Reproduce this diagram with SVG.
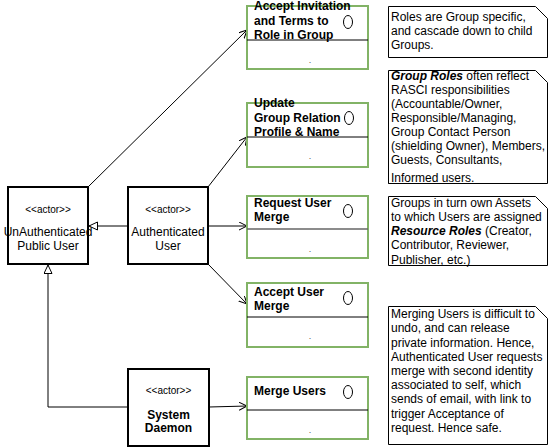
<svg xmlns="http://www.w3.org/2000/svg" width="549" height="448" viewBox="0 0 549 448">
<defs>
<style>
text{font-family:"Liberation Sans",Arial,sans-serif;font-size:12px;fill:#000}
.st{font-size:10px}
.b{font-weight:bold}
.actor{fill:#fff;stroke:#000;stroke-width:2}
.uc{fill:#fff;stroke:#82b366;stroke-width:2}
.sep{stroke:#000;stroke-width:1}
.ov{fill:#fff;stroke:#000;stroke-width:1}
.note{fill:#fff;stroke:#000;stroke-width:1}
.conn{fill:none;stroke:#000;stroke-width:1}
.dot{font-size:9px;fill:#555}
</style>
<marker id="open" markerWidth="10" markerHeight="10" refX="8" refY="4" orient="auto" markerUnits="userSpaceOnUse">
<path d="M0,0 L8,4 L0,8" fill="none" stroke="#000" stroke-width="1"/>
</marker>
<marker id="tri" markerWidth="12" markerHeight="12" refX="9" refY="4.5" orient="auto" markerUnits="userSpaceOnUse">
<path d="M0.5,0.5 L9,4.5 L0.5,8.5 Z" fill="#fff" stroke="#000" stroke-width="1"/>
</marker>
</defs>

<g id="connectors">
<line class="conn" x1="88" y1="187" x2="247" y2="30" marker-end="url(#open)"/>
<line class="conn" x1="208" y1="187" x2="247" y2="137" marker-end="url(#open)"/>
<line class="conn" x1="208" y1="226" x2="247" y2="226" marker-end="url(#open)"/>
<line class="conn" x1="208" y1="264" x2="247" y2="304" marker-end="url(#open)"/>
<line class="conn" x1="209" y1="407" x2="247" y2="406" marker-end="url(#open)"/>
<line class="conn" x1="128" y1="226" x2="89" y2="226" marker-end="url(#tri)"/>
<polyline class="conn" points="128,407 48,407 48,265" marker-end="url(#tri)"/>
</g>

<g id="actor-unauth">
<rect class="actor" x="8" y="187" width="80" height="77"/>
<text class="st" x="48" y="213" text-anchor="middle">&lt;&lt;actor&gt;&gt;</text>
<text x="48" y="236" text-anchor="middle">UnAuthenticated</text>
<text x="48" y="249.5" text-anchor="middle">Public User</text>
</g>

<g id="actor-auth">
<rect class="actor" x="128" y="187" width="80" height="77"/>
<text class="st" x="168" y="213" text-anchor="middle">&lt;&lt;actor&gt;&gt;</text>
<text x="168" y="236" text-anchor="middle">Authenticated</text>
<text x="168" y="249.5" text-anchor="middle">User</text>
</g>

<g id="actor-daemon">
<rect class="actor" x="128" y="369" width="81" height="77" stroke="#333"/>
<text class="st" x="168.5" y="394" text-anchor="middle">&lt;&lt;actor&gt;&gt;</text>
<text class="b" x="168.5" y="418.5" text-anchor="middle">System</text>
<text class="b" x="168.5" y="432" text-anchor="middle">Daemon</text>
</g>

<g id="uc-accept-invitation">
<rect class="uc" x="247" y="6" width="121" height="63"/>
<line class="sep" x1="247" y1="40" x2="368" y2="40"/>
<ellipse class="ov" cx="348" cy="22" rx="4.5" ry="6.5"/>
<text class="b" x="254" y="10">Accept Invitation</text>
<text class="b" x="254" y="24.5">and Terms to</text>
<text class="b" x="254" y="39">Role in Group</text>
<text class="dot" x="310" y="63" text-anchor="middle">.</text>
</g>

<g id="uc-update-group">
<rect class="uc" x="247" y="103" width="121" height="64"/>
<line class="sep" x1="247" y1="137" x2="368" y2="137"/>
<ellipse class="ov" cx="349" cy="118" rx="4.5" ry="6.5"/>
<text class="b" x="254" y="107">Update</text>
<text class="b" x="254" y="121.5">Group Relation</text>
<text class="b" x="254" y="136">Profile &amp; Name</text>
<text class="dot" x="310" y="159" text-anchor="middle">.</text>
</g>

<g id="uc-request-merge">
<rect class="uc" x="247" y="196" width="121" height="62"/>
<line x1="247" y1="229" x2="368" y2="229" stroke="#666" stroke-width="1.5"/>
<ellipse class="ov" cx="348" cy="211" rx="4.5" ry="6.5"/>
<text class="b" x="254" y="207">Request User</text>
<text class="b" x="254" y="221">Merge</text>
<text class="dot" x="310" y="252" text-anchor="middle">.</text>
</g>

<g id="uc-accept-merge">
<rect class="uc" x="247" y="283" width="121" height="64"/>
<line class="sep" x1="247" y1="317" x2="368" y2="317"/>
<ellipse class="ov" cx="348" cy="298" rx="4.5" ry="6.5"/>
<text class="b" x="254" y="295.5">Accept User</text>
<text class="b" x="254" y="310">Merge</text>
<text class="dot" x="310" y="339" text-anchor="middle">.</text>
</g>

<g id="uc-merge-users">
<rect class="uc" x="247" y="377" width="121" height="62"/>
<line class="sep" x1="247" y1="410" x2="368" y2="410"/>
<ellipse class="ov" cx="348" cy="392" rx="4.5" ry="6.5"/>
<text class="b" x="254" y="395">Merge Users</text>
<text class="dot" x="310" y="433" text-anchor="middle">.</text>
</g>

<g id="note-roles">
<path class="note" d="M388.5,6.5 H535.5 L547.5,18.5 V57.5 H388.5 Z"/>
<text x="391" y="21">Roles are Group specific,</text>
<text x="391" y="35">and cascade down to child</text>
<text x="391" y="49">Groups.</text>
</g>

<g id="note-group-roles">
<path class="note" d="M388.5,70.5 H535.5 L547.5,82.5 V183.5 H388.5 Z"/>
<text x="391" y="80"><tspan font-style="italic" font-weight="bold">Group Roles</tspan> often reflect</text>
<text x="391" y="94">RASCI responsibilities</text>
<text x="391" y="108">(Accountable/Owner,</text>
<text x="391" y="122">Responsible/Managing,</text>
<text x="391" y="136">Group Contact Person</text>
<text x="391" y="150">(shielding Owner), Members,</text>
<text x="391" y="164">Guests, Consultants,</text>
<text x="391" y="182">Informed users.</text>
<line x1="388.5" y1="183.5" x2="498" y2="183.5" stroke="#000" stroke-width="1"/>
</g>

<g id="note-resources">
<path class="note" d="M388.5,196.5 H535.5 L547.5,208.5 V265.5 H388.5 Z" stroke="#333" stroke-width="1.5"/>
<text x="391" y="207">Groups in turn own Assets</text>
<text x="391" y="221">to which Users are assigned</text>
<text x="391" y="235"><tspan font-style="italic" font-weight="bold">Resource Roles</tspan> (Creator,</text>
<text x="391" y="249">Contributor, Reviewer,</text>
<text x="391" y="264">Publisher, etc.)</text>
</g>

<g id="note-merging">
<path class="note" d="M388.5,306.5 H535.5 L547.5,318.5 V444.5 H388.5 Z"/>
<text x="391" y="318">Merging Users is difficult to</text>
<text x="391" y="332">undo, and can release</text>
<text x="391" y="346.5">private information. Hence,</text>
<text x="391" y="360.5">Authenticated User requests</text>
<text x="391" y="375">merge with second identity</text>
<text x="391" y="389">associated to self, which</text>
<text x="391" y="403">sends of email, with link to</text>
<text x="391" y="417.5">trigger Acceptance of</text>
<text x="391" y="432">request. Hence safe.</text>
</g>
</svg>
